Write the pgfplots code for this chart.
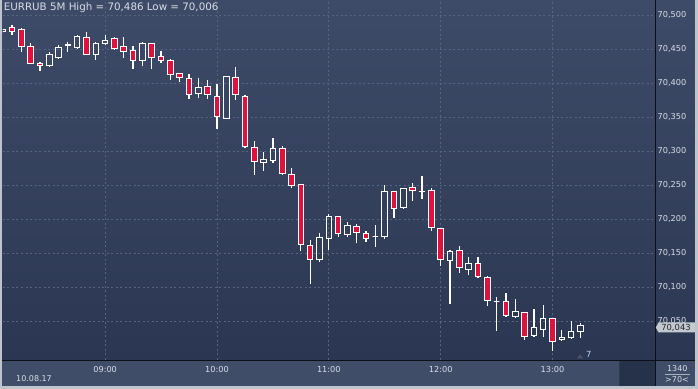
\documentclass[border=0pt]{standalone}
\usepackage{pgfplots}
\pgfplotsset{compat=1.18}
\usepackage{pgfplotstable}
\usepgfplotslibrary{statistics}
\usepackage{fontspec}
\setmainfont{DejaVu Sans}
\definecolor{bgtop}{HTML}{3E4B68}
\definecolor{bgbot}{HTML}{2B3752}
\definecolor{panel}{HTML}{404D69}
\definecolor{darkbox}{HTML}{263249}
\definecolor{darkboxedge}{HTML}{2F3A4E}
\definecolor{sep}{HTML}{0B0F17}
\definecolor{frame}{HTML}{BFC3CB}
\definecolor{gridc}{HTML}{56647F}
\definecolor{candlered}{HTML}{DF113D}
\definecolor{txt}{HTML}{D8DDE6}
\definecolor{tagc}{HTML}{C4C8D0}
\definecolor{seven}{HTML}{B4D2F5}
\definecolor{underl}{HTML}{AAB0BC}
\definecolor{trig}{HTML}{4A5466}

\pgfplotstableread{
i o h l c
0 70.475 70.480 70.474 70.479
1 70.481 70.486 70.471 70.476
2 70.478 70.481 70.446 70.453
3 70.453 70.459 70.428 70.429
4 70.428 70.431 70.418 70.425
5 70.425 70.445 70.424 70.442
6 70.437 70.456 70.435 70.452
7 70.455 70.460 70.446 70.456
8 70.452 70.471 70.450 70.468
9 70.467 70.475 70.441 70.442
10 70.442 70.461 70.434 70.458
11 70.458 70.470 70.457 70.463
12 70.466 70.467 70.449 70.450
13 70.453 70.468 70.437 70.447
14 70.448 70.454 70.421 70.433
15 70.433 70.460 70.425 70.458
16 70.458 70.459 70.421 70.438
17 70.439 70.447 70.430 70.433
18 70.433 70.435 70.405 70.413
19 70.414 70.415 70.402 70.408
20 70.406 70.413 70.376 70.383
21 70.385 70.408 70.378 70.394
22 70.395 70.405 70.376 70.383
23 70.380 70.398 70.333 70.350
24 70.348 70.410 70.347 70.409
25 70.408 70.424 70.375 70.383
26 70.380 70.383 70.304 70.306
27 70.305 70.315 70.265 70.284
28 70.283 70.299 70.271 70.288
29 70.286 70.319 70.283 70.304
30 70.303 70.307 70.264 70.267
31 70.266 70.275 70.246 70.249
32 70.251 70.251 70.153 70.163
33 70.161 70.169 70.104 70.140
34 70.140 70.180 70.137 70.173
35 70.172 70.207 70.154 70.203
36 70.204 70.205 70.173 70.178
37 70.177 70.195 70.174 70.191
38 70.189 70.192 70.165 70.180
39 70.179 70.183 70.166 70.172
40 70.174 70.191 70.159 70.174
41 70.174 70.250 70.171 70.241
42 70.241 70.241 70.202 70.216
43 70.217 70.246 70.215 70.245
44 70.247 70.253 70.226 70.242
45 70.241 70.263 70.229 70.241
46 70.242 70.245 70.182 70.188
47 70.186 70.186 70.131 70.140
48 70.139 70.154 70.075 70.152
49 70.154 70.161 70.120 70.129
50 70.126 70.144 70.118 70.135
51 70.135 70.144 70.114 70.115
52 70.114 70.116 70.072 70.080
53 70.078 70.085 70.035 70.078
54 70.079 70.091 70.056 70.058
55 70.056 70.083 70.055 70.064
56 70.063 70.063 70.022 70.027
57 70.028 70.068 70.027 70.041
58 70.037 70.074 70.026 70.054
59 70.054 70.054 70.006 70.020
60 70.023 70.037 70.020 70.026
61 70.026 70.050 70.024 70.035
62 70.035 70.047 70.025 70.043
}\candles

\pgfplotsset{
  candle/.style={
    white, line width=1bp,
    boxplot/draw direction=y,
    boxplot/every whisker/.style={draw=white, line width=1.25bp},
    boxplot/every median/.style={draw=white, line width=1bp},
  }
}

\begin{document}
\begin{tikzpicture}
\shade[top color=bgtop, bottom color=bgbot] (0,29bp) rectangle (698bp,389bp);
\fill[panel] (0,0) rectangle (698bp,29bp);
\fill[darkbox] (619.3bp,3bp) rectangle (655bp,28.5bp);
\draw[darkboxedge, line width=1bp] (619.8bp,3bp) -- (619.8bp,28.5bp);
\begin{axis}[
  at={(3bp,29bp)}, anchor=south west,
  x=9.32bp, y=680bp,
  xmin=0.04, xmax=70, ymin=69.99265, ymax=70.52206,
  axis line style={draw=none},
  major tick length=0pt,
  tick style={draw=none},
  clip=true,
  scaled y ticks=false,
  xtick={11,23,35,47,59},
  xticklabels={09:00,10:00,11:00,12:00,13:00},
  ytick={70.05,70.1,70.15,70.2,70.25,70.3,70.35,70.4,70.45,70.5},
  yticklabel pos=right,
  /pgf/number format/assume math mode=true,
  /pgf/number format/.cd, fixed, fixed zerofill, precision=3, use comma,
  /pgfplots/.cd,
  ticklabel style={font=\fontsize{8.2bp}{9bp}\selectfont, text=txt},
  yticklabel style={anchor=west, inner sep=0pt, xshift=2.4bp},
  xticklabel style={anchor=north, inner sep=0pt, yshift=-6bp},
  grid=major,
  major grid style={draw=gridc, line width=0.8bp, dash pattern=on 2bp off 2.5bp},
]
\pgfplotsinvokeforeach{0,...,62}{%
  \pgfplotstablegetelem{#1}{o}\of\candles\let\vo\pgfplotsretval
  \pgfplotstablegetelem{#1}{h}\of\candles\let\vh\pgfplotsretval
  \pgfplotstablegetelem{#1}{l}\of\candles\let\vl\pgfplotsretval
  \pgfplotstablegetelem{#1}{c}\of\candles\let\vc\pgfplotsretval
  \ifdim\vc pt<\vo pt
    \let\lo\vc \let\hi\vo \def\fc{candlered}%
  \else
    \let\lo\vo \let\hi\vc \def\fc{none}%
  \fi
  \edef\temp{\noexpand\addplot[candle, boxplot/every box/.style={draw=white,fill=\fc}, boxplot prepared={draw position=#1, lower whisker=\vl, lower quartile=\lo, median=\lo, upper quartile=\hi, upper whisker=\vh, box extend=0.6, whisker extend=0}] coordinates {};}%
  \temp
}
\end{axis}
% separators
\draw[sep, line width=1bp] (0,28.8bp) -- (698bp,28.8bp);
\draw[sep, line width=1bp] (655.5bp,0) -- (655.5bp,389bp);
% price tag
\fill[tagc] (655.8bp,61.5bp) -- (658.5bp,66.5bp) -- (695bp,66.5bp) -- (695bp,56.5bp) -- (658.5bp,56.5bp) -- cycle;
\node[anchor=center, inner sep=0pt, text=black!85, font=\fontsize{8.4bp}{9bp}\selectfont] at (676bp,61.3bp) {70,043};
% frame
\fill[frame] (0,0) rectangle (2.3bp,389bp);
\fill[frame] (695bp,0) rectangle (698bp,389bp);
\fill[frame] (0,0) rectangle (698bp,3bp);
% texts
\node[anchor=base west, inner sep=0pt, text=txt, font=\fontsize{10.3bp}{11bp}\selectfont] at (3.6bp,378.2bp) {EURRUB 5M High = 70,486 Low = 70,006};
\node[anchor=base west, inner sep=0pt, text=txt, font=\fontsize{8bp}{9bp}\selectfont] at (16bp,7.3bp) {10.08.17};
\node[anchor=base, inner sep=0pt, text=txt, font=\fontsize{8bp}{9bp}\selectfont] at (677.3bp,17.3bp) {1340};
\draw[underl, line width=0.8bp] (665bp,14.5bp) -- (690bp,14.5bp);
\node[anchor=base, inner sep=0pt, text=txt, font=\fontsize{8bp}{9bp}\selectfont] at (677bp,6.3bp) {>70<};
\fill[trig] (576.8bp,30.5bp) -- (583.4bp,30.5bp) -- (580.1bp,34.5bp) -- cycle;
\node[anchor=base west, inner sep=0pt, text=seven, font=\fontsize{8.4bp}{9bp}\selectfont] at (586bp,31.7bp) {7};
\pgfresetboundingbox
\path[use as bounding box] (0,0) rectangle (698bp,389bp);
\end{tikzpicture}
\end{document}
